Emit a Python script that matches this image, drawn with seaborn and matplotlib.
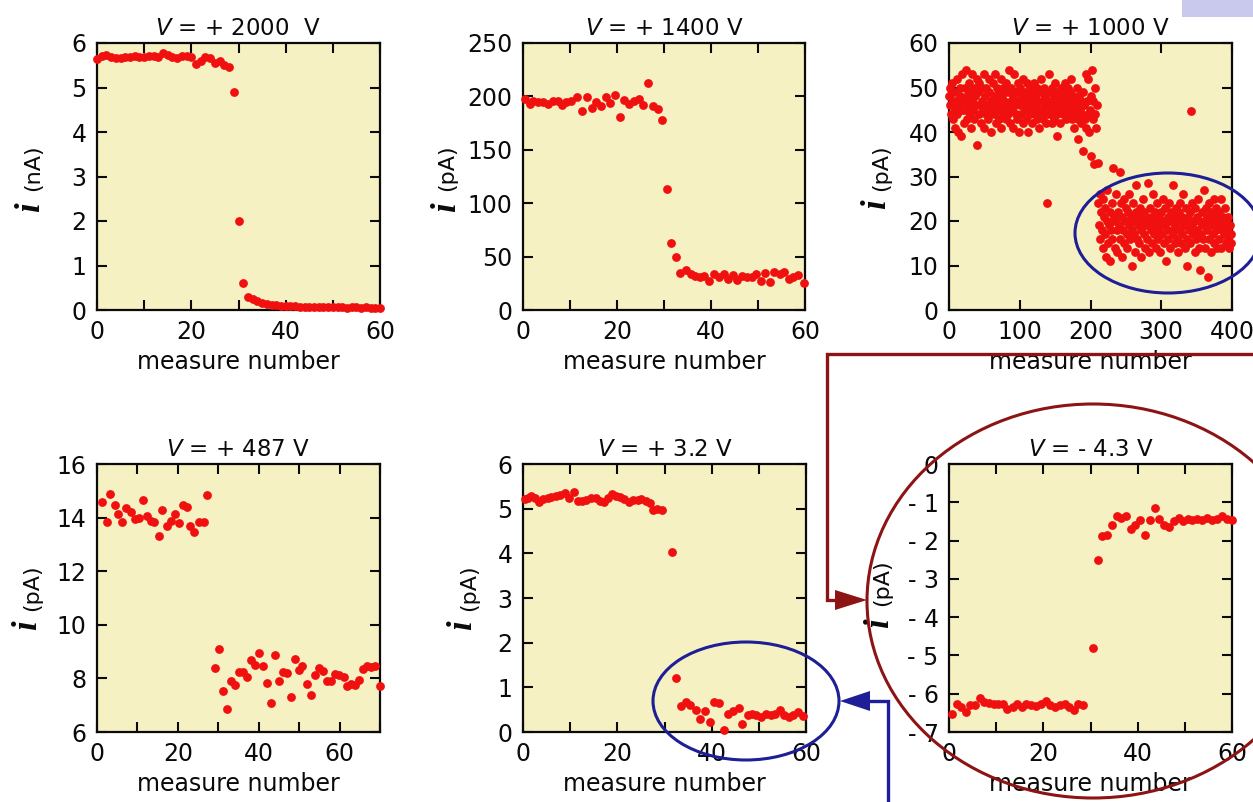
import numpy as np
import pandas as pd
import matplotlib
matplotlib.use("Agg")
import matplotlib.pyplot as plt
import seaborn as sns
from matplotlib.patches import Ellipse, Rectangle, Polygon

# ---------------- data ----------------
titles = ["$V$ = + 2000  V", "$V$ = + 1400 V", "$V$ = + 1000 V",
          "$V$ = + 487 V", "$V$ = + 3.2 V", "$V$ = - 4.3 V"]
units = ["(nA)", "(pA)", "(pA)", "(pA)", "(pA)", "(pA)"]

# V = +2000 V  (nA)
x1 = list(range(61))
y1 = [5.65, 5.70, 5.72, 5.68, 5.66, 5.66, 5.68, 5.69, 5.70, 5.69, 5.68, 5.70, 5.71, 5.69, 5.78, 5.72,
      5.68, 5.66, 5.70, 5.70, 5.68, 5.52, 5.60, 5.68, 5.66, 5.55, 5.60, 5.50, 5.45, 4.90, 2.00, 0.60,
      0.30, 0.24, 0.20, 0.16, 0.14, 0.12, 0.11, 0.10, 0.09, 0.08, 0.08, 0.07, 0.07, 0.07, 0.06, 0.06,
      0.06, 0.07, 0.06, 0.06, 0.06, 0.05, 0.06, 0.06, 0.05, 0.06, 0.05, 0.05, 0.05]

# V = +1400 V  (pA)
x2 = [0.35, 1.4, 2.1, 3.2, 4.3, 5.3, 6.4, 7.5, 8.4, 9.2, 10.3, 11.5, 12.5, 13.6, 14.7, 15.6, 16.7,
      17.6, 18.6, 19.5, 20.7, 21.4, 22.6, 23.6, 24.7, 25.6, 26.7, 27.7, 28.7, 29.6, 30.7, 31.5, 32.6,
      33.5, 34.6, 35.7, 36.7, 37.7, 38.6, 39.6, 40.7, 41.7, 42.7, 43.6, 44.7, 45.6, 46.6, 47.7, 48.7,
      49.6, 50.6, 51.5, 52.6, 53.5, 54.6, 55.6, 56.5, 57.5, 58.6, 59.7]
y2 = [198, 193, 196, 195, 195, 193, 196, 196, 192, 195, 196, 199, 186, 199, 189, 195, 191, 199, 194,
      201, 181, 197, 193, 196, 198, 192, 213, 191, 188, 178, 113, 63, 50, 35, 37, 34, 32, 31, 32, 27.5,
      34, 31, 34, 29, 33, 28, 32, 31, 31, 34, 27.5, 35, 26, 36, 34, 36, 29, 31, 33, 25]

# V = +1000 V  (pA), one value per measure 0..399
y3 = [48, 50, 46, 44, 51, 47, 43, 49, 45, 41, 47, 52, 44, 40, 46, 50, 48, 39, 45, 53,
      47, 42, 50, 45, 54, 48, 43, 46, 51, 44, 49, 41, 47, 53, 45, 50, 43, 48, 46, 52,
      37, 49, 44, 51, 46, 42, 50, 47, 45, 53, 41, 48, 44, 50, 46, 43, 49, 52, 45, 47,
      40, 46, 51, 44, 48, 53, 42, 47, 50, 45, 43, 49, 46, 52, 41, 48, 44, 50, 47, 45,
      43, 51, 46, 49, 44, 54, 42, 47, 50, 45, 48, 41, 53, 46, 44, 49, 43, 51, 47, 40,
      46, 50, 44, 48, 42, 52, 47, 45, 49, 43, 51, 46, 40, 48, 44, 50, 47, 42, 49, 45,
      51, 44, 48, 46, 43, 50, 47, 41, 49, 45, 52, 44, 47, 43, 50, 46, 48, 42, 45, 24,
      47, 53, 44, 49, 46, 42, 50, 45, 48, 43, 51, 47, 44, 39, 49, 46, 48, 42, 50, 45,
      47, 44, 49, 46, 51, 43, 48, 45, 50, 47, 44, 49, 46, 52, 43, 48, 45, 41, 47, 44,
      46, 50, 38.4, 43, 48, 45, 42, 47, 44, 35.8, 49, 46, 43, 53, 41, 47, 44, 52, 40, 45,
      48, 34.7, 54, 43, 47, 32.8, 50, 44, 41, 46, 24, 33, 19, 26, 16, 22, 18, 25, 14, 21,
      17, 23, 12, 20, 27, 15, 19, 22, 11, 18, 24, 16, 31.8, 21, 14, 20, 26, 18, 13, 22,
      19, 31.1, 16, 24, 21, 12, 18, 25, 15, 20, 23, 17, 14, 22, 19, 26, 16, 21, 10, 18,
      24, 17, 20, 13, 22, 28, 16, 19, 21, 15, 23, 18, 12, 20, 25, 17, 22, 14, 19, 21,
      16, 28.5, 20, 13, 23, 18, 21, 15, 19, 26, 17, 22, 14, 20, 24, 18, 16, 21, 13, 19,
      22, 17, 20, 25, 15, 19, 23, 11, 18, 21, 16, 24, 20, 14, 22, 18, 28, 17, 21, 15,
      19, 23, 16, 20, 13, 22, 18, 24, 15, 21, 17, 26, 19, 14, 20, 23, 16, 10, 21, 18,
      15, 22, 44.7, 19, 24, 17, 20, 13, 23, 16, 21, 18, 25, 14, 20, 9, 17, 22, 19, 16,
      27, 20, 14, 23, 18, 21, 7.5, 16, 24, 19, 22, 13, 20, 17, 25, 15, 21, 18, 23, 14,
      19, 22, 16, 20, 25, 14, 18, 21, 17, 19, 23, 15, 20, 18, 16, 21, 14, 19, 17, 15]
x3 = list(range(len(y3)))

# V = +487 V  (pA)
x4 = [1.2, 2.5, 3.3, 4.4, 5.2, 6.3, 7.2, 8.4, 9.3, 10.3, 11.4, 12.4, 13.3, 14.2, 15.3, 16.2, 17.3,
      18.3, 19.3, 20.3, 21.2, 22.2, 23.1, 24.1, 25.3, 26.4, 27.2, 29.2, 30.2, 31.1, 32.1, 33.1, 34.2,
      35.2, 36.2, 37.2, 38.1, 39.1, 40.0, 41.0, 42.0, 43.1, 44.1, 45.1, 46.0, 46.9, 48.0, 48.9, 50.0,
      50.8, 51.9, 52.9, 53.9, 54.9, 55.8, 56.8, 57.9, 58.9, 59.9, 61.0, 61.9, 62.9, 63.9, 64.9, 65.9,
      66.7, 67.8, 68.8, 70.0]
y4 = [14.57, 13.85, 14.88, 14.47, 14.14, 13.85, 14.36, 14.22, 13.95, 14.0, 14.67, 14.07, 13.86, 13.85,
      13.33, 14.29, 13.7, 13.88, 14.14, 13.78, 14.47, 14.41, 13.67, 13.48, 13.83, 13.83, 14.86, 8.39,
      9.08, 7.52, 6.87, 7.9, 7.74, 8.24, 8.24, 8.05, 8.7, 8.51, 8.94, 8.45, 7.83, 7.08, 8.88, 7.89,
      8.24, 8.2, 7.3, 8.71, 8.32, 8.46, 7.8, 7.39, 8.11, 8.39, 8.27, 7.89, 7.89, 8.17, 8.11, 8.07,
      7.71, 7.78, 7.74, 7.93, 8.36, 8.48, 8.42, 8.46, 7.71]

# V = +3.2 V  (pA)
x5 = [0.35, 1.1, 1.8, 2.5, 3.4, 4.2, 5.2, 6.0, 6.9, 7.8, 8.8, 9.8, 10.8, 11.7, 12.6, 13.4, 14.4, 15.4,
      16.3, 17.2, 18.0, 18.8, 19.7, 20.5, 21.4, 22.4, 23.4, 24.3, 25.1, 26.0, 26.9, 27.6, 28.5, 29.4,
      31.6, 32.5, 33.6, 34.5, 35.5, 36.6, 37.6, 38.6, 39.6, 40.5, 41.5, 42.6, 43.5, 44.6, 45.7, 46.5,
      47.6, 48.5, 49.5, 50.5, 51.5, 52.6, 53.4, 54.4, 55.3, 56.4, 57.3, 58.4, 59.4]
y5 = [5.21, 5.25, 5.29, 5.24, 5.14, 5.21, 5.24, 5.27, 5.29, 5.31, 5.35, 5.23, 5.38, 5.18, 5.18, 5.2,
      5.23, 5.23, 5.18, 5.15, 5.23, 5.33, 5.29, 5.27, 5.21, 5.14, 5.19, 5.19, 5.21, 5.18, 5.12, 4.97,
      4.99, 4.97, 4.03, 1.2, 0.58, 0.68, 0.6, 0.49, 0.28, 0.47, 0.23, 0.68, 0.66, 0.05, 0.41, 0.47,
      0.53, 0.17, 0.38, 0.41, 0.39, 0.34, 0.41, 0.39, 0.4, 0.49, 0.38, 0.34, 0.38, 0.44, 0.35]

# V = -4.3 V  (pA)
x6 = [0.6, 1.6, 2.6, 3.5, 4.4, 5.5, 6.5, 7.4, 8.5, 9.5, 10.4, 11.5, 12.4, 13.5, 14.4, 15.4, 16.4,
      17.4, 18.4, 19.4, 20.5, 21.4, 22.5, 23.5, 24.6, 25.5, 26.4, 27.4, 28.5, 30.6, 31.5, 32.4, 33.4,
      34.6, 35.6, 36.5, 37.5, 38.5, 39.4, 40.5, 41.6, 42.6, 43.7, 44.6, 45.6, 46.7, 47.6, 48.7, 49.7,
      50.6, 51.6, 52.5, 53.6, 54.7, 55.7, 56.8, 57.9, 58.9, 60.0]
y6 = [-6.52, -6.26, -6.34, -6.47, -6.3, -6.3, -6.12, -6.21, -6.24, -6.27, -6.27, -6.26, -6.39, -6.34,
      -6.26, -6.36, -6.27, -6.3, -6.33, -6.27, -6.19, -6.3, -6.36, -6.3, -6.26, -6.36, -6.43, -6.27,
      -6.3, -4.81, -2.51, -1.88, -1.86, -1.6, -1.36, -1.4, -1.36, -1.69, -1.6, -1.46, -1.86, -1.46,
      -1.16, -1.43, -1.6, -1.64, -1.49, -1.4, -1.49, -1.43, -1.46, -1.43, -1.46, -1.4, -1.45, -1.43,
      -1.37, -1.43, -1.46]

xs = [x1, x2, x3, x4, x5, x6]
ys = [y1, y2, y3, y4, y5, y6]

xlims = [(0, 60), (0, 60), (0, 400), (0, 70), (0, 60), (0, 60)]
xtick_sets = [list(range(0, 61, 10)), list(range(0, 61, 10)), list(range(0, 401, 100)),
              list(range(0, 71, 10)), list(range(0, 61, 10)), list(range(0, 61, 10))]
xtick_labels = [["0", "", "20", "", "40", "", "60"], ["0", "", "20", "", "40", "", "60"],
                ["0", "100", "200", "300", "400"], ["0", "", "20", "", "40", "", "60", ""],
                ["0", "", "20", "", "40", "", "60"], ["0", "", "20", "", "40", "", "60"]]
ylims = [(0, 6), (0, 250), (0, 60), (6, 16), (0, 6), (-7, 0)]
ytick_sets = [list(range(0, 7)), list(range(0, 251, 50)), list(range(0, 61, 10)),
              list(range(6, 17, 2)), list(range(0, 7)), list(range(-7, 1))]
ytick_labels = [None, None, None, None, None,
                ["- 7", "- 6", "- 5", "- 4", "- 3", "- 2", "- 1", "0"]]

# label offsets (px from axes left) and vertical fractions
unit_dx = [-64, -76, -68, -65, -54, -67]
unit_fy = [0.534, 0.534, 0.534, 0.539, 0.54, 0.556]
i_dx = [-66, -76, -72, -69, -60, -69]
i_fy = [0.385, 0.385, 0.395, 0.40, 0.40, 0.405]

# ---------------- style ----------------
sns.set_style("ticks")
plt.rcParams["font.family"] = ["DejaVu Sans"]
plt.rcParams["mathtext.fontset"] = "dejavusans"

W, H = 1253, 802
fig = plt.figure(figsize=(W / 100, H / 100), dpi=100)
fig.patch.set_facecolor("white")

ax_px = [(97, 43, 283, 267), (523, 43, 282, 267), (949, 43, 283, 267),
         (97, 464, 283, 268), (523, 464, 283, 268), (949, 464, 283, 268)]

face = "#F5F1C2"
dot = "#F01010"
ink = "#0A0A0A"

for k in range(6):
    l, t, w, h = ax_px[k]
    ax = fig.add_axes([l / W, 1 - (t + h) / H, w / W, h / H])
    ax.set_facecolor(face)
    df = pd.DataFrame({"measure": xs[k], "current": ys[k]})
    sns.scatterplot(data=df, x="measure", y="current", ax=ax, color=dot, s=40,
                    linewidth=0, clip_on=False, zorder=3)
    ax.set_xlim(*xlims[k])
    ax.set_ylim(*ylims[k])
    ax.set_xticks(xtick_sets[k], xtick_labels[k])
    if ytick_labels[k] is None:
        ax.set_yticks(ytick_sets[k])
    else:
        ax.set_yticks(ytick_sets[k], ytick_labels[k])
    ax.tick_params(direction="in", top=True, right=True, length=7, width=1.5,
                   labelsize=17, pad=7.5, colors=ink)
    for sp in ax.spines.values():
        sp.set_linewidth(1.6)
        sp.set_color(ink)
        sp.set_visible(True)
    ax.set_xlabel("measure number", fontsize=17, labelpad=4, color=ink)
    ax.set_ylabel("")
    ax.set_title(titles[k], fontsize=16.5, pad=6, color=ink)
    ax.text(unit_dx[k] / w, unit_fy[k], units[k], transform=ax.transAxes, rotation=90,
            ha="center", va="center", fontsize=16, color=ink)
    ax.text(i_dx[k] / w, i_fy[k], "i", transform=ax.transAxes, rotation=90,
            ha="center", va="center", fontsize=25, fontweight="bold", fontstyle="italic",
            family=["Liberation Serif", "DejaVu Serif"], color=ink)

# ---------------- annotation overlay ----------------
ov = fig.add_axes([0, 0, 1, 1], zorder=10)
ov.set_xlim(0, W)
ov.set_ylim(H, 0)
ov.axis("off")
ov.patch.set_alpha(0)

dark_red = "#8C1414"
navy = "#1E1E96"

ov.add_patch(Rectangle((1182, 0), 71, 17, facecolor="#C9C9EE", edgecolor="none"))
ov.add_patch(Ellipse((1093, 601), 452, 394, fill=False, edgecolor=dark_red, linewidth=2.2))
ov.add_patch(Ellipse((1168, 233), 186, 120, fill=False, edgecolor=navy, linewidth=2.2))
ov.add_patch(Ellipse((746, 701), 186, 118, fill=False, edgecolor=navy, linewidth=2.2))

ov.plot([1253, 827, 827, 838], [354, 354, 600, 600], color=dark_red, linewidth=2.4,
        solid_joinstyle="miter")
ov.add_patch(Polygon([(835, 590), (835, 610), (867, 600)], closed=True,
                     facecolor=dark_red, edgecolor="none"))
ov.plot([888, 888, 868], [802, 701, 701], color=navy, linewidth=2.4, solid_joinstyle="miter")
ov.add_patch(Polygon([(870, 691), (870, 711), (840, 701)], closed=True,
                     facecolor=navy, edgecolor="none"))

fig.savefig("out.png", dpi=100)
